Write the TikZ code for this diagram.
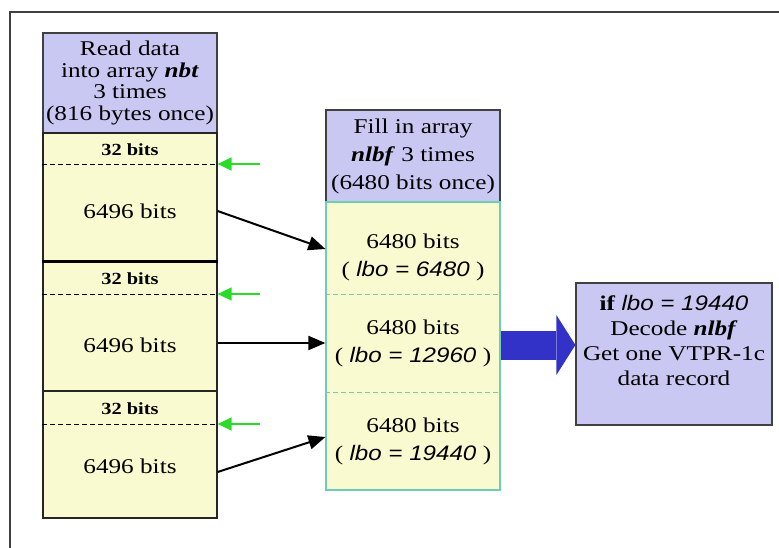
\documentclass[tikz,border=0pt]{standalone}
\usepackage{fontspec}
\setmainfont{Liberation Serif}[FakeStretch=1.2]
\newfontfamily\lbofont{Liberation Sans}[FakeStretch=1.15]
\usetikzlibrary{arrows.meta}

\definecolor{hdrblue}{RGB}{200,200,242}
\definecolor{segyellow}{RGB}{250,250,208}
\definecolor{tealline}{RGB}{110,205,180}
\definecolor{bigblue}{RGB}{50,50,200}
\definecolor{feedgreen}{RGB}{40,220,40}

\newcommand{\lbo}[1]{{\lbofont\itshape #1}}
\newcommand{\arrname}[1]{\textbf{\textit{#1}}}

\begin{document}
\begin{tikzpicture}[x=1pt, y=-1pt,
        hdr/.style={rectangle, draw=black!75, fill=hdrblue, line width=1.2pt, minimum width=174pt, inner sep=0pt, align=center, font=\fontsize{21}{21.5}\selectfont},
        seg/.style={rectangle, draw=black!85, fill=segyellow, line width=1.2pt, minimum width=174pt},
        tag/.style={font=\fontsize{17}{17}\selectfont\rmfamily\bfseries},
        bits/.style={align=center, font=\fontsize{21}{28}\selectfont\rmfamily},
        cut/.style={dash pattern=on 5pt off 3pt, line width=0.9pt},
        feed/.style={draw=feedgreen, line width=1.3pt, -{Triangle[length=14pt, width=13pt]}},
        move/.style={line width=2pt, -{Triangle[length=17pt, width=14pt]}},
        bigarrow/.style={draw=bigblue, line width=29pt, -{Triangle[length=19pt, width=60pt, line width=0pt, fill=bigblue]}},
    ]
    \useasboundingbox (0,0) rectangle (779,548);
    \draw[black!75, line width=1.6pt] (10,548) |- (779,12);

    % array nbt
    \node[hdr, minimum height=100pt] (readhdr) at (130,83) {Read data\\into array \arrname{nbt}\\3 times\\(816 bytes once)};
    \node[seg, minimum height=129pt] (nbtA) at (130,197.5) {};
    \node[seg, minimum height=129pt] (nbtB) at (130,326.5) {};
    \node[seg, minimum height=127pt] (nbtC) at (130,454.5) {};
    \draw[line width=2.2pt] (nbtB.north west) -- (nbtB.north east);

    \node[tag] (tagA) at (130,150) {32 bits};
    \node[tag] (tagB) at (130,279) {32 bits};
    \node[tag] (tagC) at (130,409) {32 bits};
    \node[bits] (rawA) at (130,211) {6496 bits};
    \node[bits] (rawB) at (130,345) {6496 bits};
    \node[bits] (rawC) at (130,466) {6496 bits};

    \draw[cut] (nbtA.west |- 0,164) -- (nbtA.east |- 0,164);
    \draw[cut] (nbtB.west |- 0,294) -- (nbtB.east |- 0,294);
    \draw[cut] (nbtC.west |- 0,424) -- (nbtC.east |- 0,424);

    % refill pointers
    \coordinate (cutA) at (nbtA.east |- 0,164);
    \coordinate (cutB) at (nbtB.east |- 0,294);
    \coordinate (cutC) at (nbtC.east |- 0,424);
    \draw[feed] ([xshift=42pt]cutA) -- (cutA);
    \draw[feed] ([xshift=42pt]cutB) -- (cutB);
    \draw[feed] ([xshift=42pt]cutC) -- (cutC);

    % array nlbf
    \node[hdr, minimum height=92pt, font=\fontsize{21}{28}\selectfont] (fillhdr) at (413,156) {Fill in array\\\arrname{nlbf} 3 times\\(6480 bits once)};
    \node[rectangle, draw=tealline, fill=segyellow, line width=1.2pt, minimum width=174pt, minimum height=288pt] (nlbfbox) at (413,346) {};
    \draw[cut, draw=tealline] (nlbfbox.west |- 0,294) -- (nlbfbox.east |- 0,294);
    \draw[cut, draw=tealline] (nlbfbox.west |- 0,392) -- (nlbfbox.east |- 0,392);

    \node[bits] (nlbfA) at (413,257) {6480 bits\\( \lbo{lbo = 6480} )};
    \node[bits] (nlbfB) at (413,343) {6480 bits\\( \lbo{lbo = 12960} )};
    \node[bits] (nlbfC) at (413,441) {6480 bits\\( \lbo{lbo = 19440} )};

    \draw[move] (nbtA.east |- rawA) -- ([yshift=8pt]nlbfbox.west |- nlbfA);
    \draw[move] (nbtB.east |- nlbfB) -- (nlbfbox.west |- nlbfB);
    \draw[move] ([yshift=-6pt]nbtC.east |- rawC) -- ([yshift=4pt]nlbfbox.west |- nlbfC);

    % decoding step
    \node[hdr, minimum width=196pt, minimum height=142pt] (decode) at (674,354) {};
    \node[anchor=north, align=center, font=\fontsize{21}{25}\selectfont] (decodetxt) at (674,292) {\textbf{if} \lbo{lbo = 19440}\\Decode \arrname{nlbf}\\Get one VTPR-1c\\data record};
    \draw[bigarrow] ([yshift=-2pt]nlbfbox.east |- nlbfB) -- ([yshift=-2pt]decode.west |- nlbfB);
\end{tikzpicture}
\end{document}
